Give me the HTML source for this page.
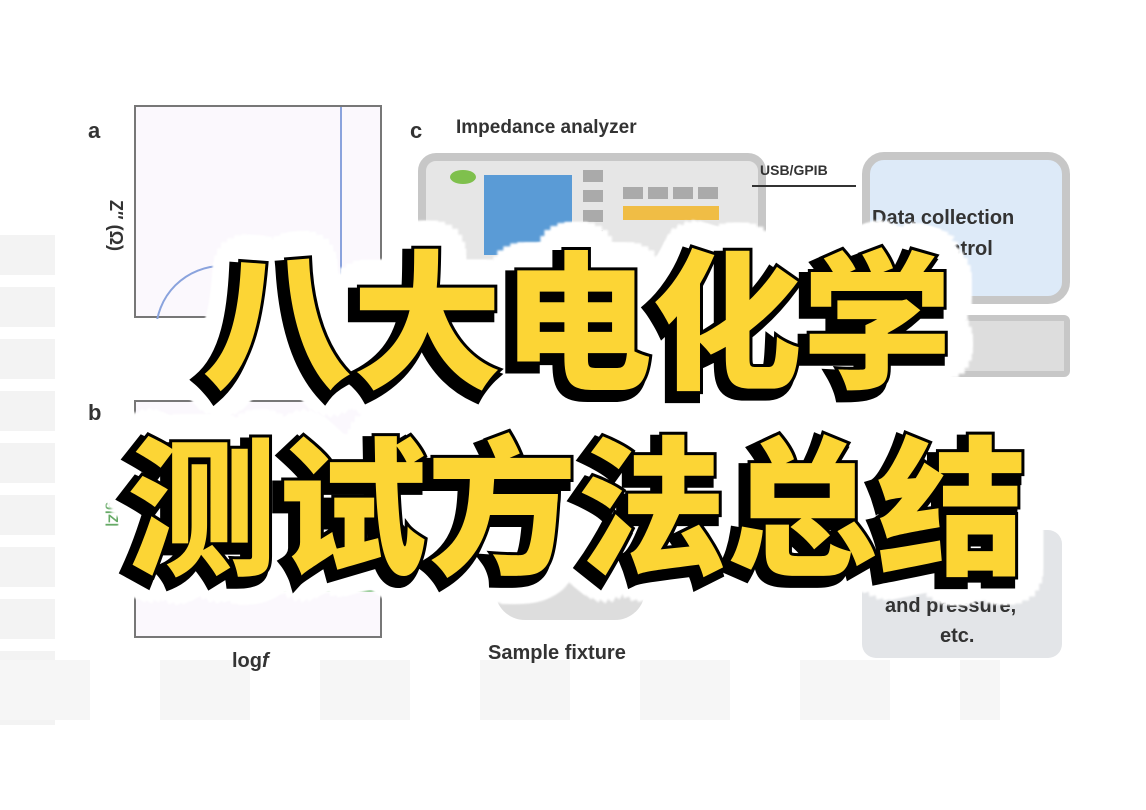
<!DOCTYPE html>
<html><head><meta charset="utf-8"><style>
html,body{margin:0;padding:0;}
body{width:1146px;height:810px;position:relative;overflow:hidden;background:#fff;font-family:"Liberation Sans",sans-serif;}
.a{position:absolute;}
.lbl{position:absolute;font-weight:bold;color:#444;}
.t{position:absolute;left:0;width:1146px;text-align:center;font-family:"Noto Sans CJK SC","WenQuanYi Zen Hei",sans-serif;font-weight:900;font-size:150px;line-height:1;white-space:nowrap;}
.w{color:#fff;-webkit-text-stroke:14px #fff;text-shadow:
28px 0 2px #fff,27px 7px 2px #fff,24px 14px 2px #fff,20px 20px 2px #fff,14px 24px 2px #fff,7px 27px 2px #fff,
0 28px 2px #fff,-7px 27px 2px #fff,-14px 24px 2px #fff,-20px 20px 2px #fff,-24px 14px 2px #fff,-27px 7px 2px #fff,
-28px 0 2px #fff,-27px -7px 2px #fff,-24px -14px 2px #fff,-20px -20px 2px #fff,-14px -24px 2px #fff,-7px -27px 2px #fff,
0 -28px 2px #fff,7px -27px 2px #fff,14px -24px 2px #fff,20px -20px 2px #fff,24px -14px 2px #fff,27px -7px 2px #fff,
18px 0 #fff,-18px 0 #fff,0 18px #fff,0 -18px #fff,13px 13px #fff,-13px 13px #fff,13px -13px #fff,-13px -13px #fff,
17px 7px #fff,-17px 7px #fff,17px -7px #fff,-17px -7px #fff,7px 17px #fff,-7px 17px #fff,7px -17px #fff,-7px -17px #fff;}
.s{color:#000;-webkit-text-stroke:12px #000;}
.y{color:#fcd535;-webkit-text-stroke:6px #000;paint-order:stroke fill;}
</style></head><body>
<div class="a" style="left:0;top:235px;width:55px;height:490px;background:repeating-linear-gradient(#f3f3f3 0 40px,#fff 40px 52px);"></div>
<div class="a" style="left:0;top:660px;width:1000px;height:60px;background:repeating-linear-gradient(90deg,#f6f6f6 0 90px,#fff 90px 160px);"></div>
<div class="lbl" style="left:88px;top:118px;font-size:22px;color:#333">a</div>
<div class="a" style="left:134px;top:105px;width:244px;height:209px;border:2px solid #777;background:#fbf8fd"></div>
<div class="a" style="left:340px;top:107px;width:2px;height:209px;background:#8aa3dd"></div>
<div class="a" style="left:155px;top:265px;width:130px;height:130px;border:2px solid #8aa3dd;border-radius:50%;clip-path:inset(0 0 80px 0)"></div>
<div class="lbl" style="left:90px;top:215px;font-size:18px;transform:rotate(90deg);color:#333">Z″ (Ω)</div>
<div class="lbl" style="left:88px;top:400px;font-size:22px;color:#333">b</div>
<div class="a" style="left:134px;top:400px;width:244px;height:234px;border:2px solid #777;background:#fbf8fd"></div>
<div class="a" style="left:140px;top:590px;width:236px;height:2px;background:#9c9"></div>
<div class="lbl" style="left:95px;top:500px;font-size:14px;color:#6a6;transform:rotate(90deg)">log|Z|</div>
<div class="lbl" style="left:232px;top:650px;font-size:20px;color:#333">log<i>f</i></div>
<div class="lbl" style="left:410px;top:118px;font-size:22px;color:#333">c</div>
<div class="lbl" style="left:456px;top:117px;font-size:19px;color:#333">Impedance analyzer</div>
<div class="a" style="left:418px;top:153px;width:332px;height:110px;border:8px solid #c7c7c7;border-radius:18px;background:#e6e6e6"></div>
<div class="a" style="left:450px;top:170px;width:26px;height:14px;border-radius:50%;background:#7fc04d"></div>
<div class="a" style="left:484px;top:175px;width:88px;height:80px;background:#5a9bd6"></div>
<div class="a" style="left:623px;top:187px;width:96px;height:12px;background:repeating-linear-gradient(90deg,#aaa 0 20px,transparent 20px 25px)"></div>
<div class="a" style="left:623px;top:206px;width:96px;height:14px;background:#f0bd45"></div>
<div class="a" style="left:583px;top:170px;width:20px;height:70px;background:repeating-linear-gradient(#aaa 0 12px,transparent 12px 20px)"></div>
<div class="lbl" style="left:760px;top:162px;font-size:14px;color:#333">USB/GPIB</div>
<div class="a" style="left:752px;top:185px;width:104px;height:2px;background:#333"></div>
<div class="a" style="left:862px;top:152px;width:192px;height:136px;border:8px solid #c7c7c7;border-radius:22px;background:#ddeaf8"></div>
<div class="lbl" style="left:872px;top:207px;font-size:20px;color:#333">Data collection</div>
<div class="lbl" style="left:925px;top:238px;font-size:20px;color:#333">control</div>
<div class="a" style="left:930px;top:315px;width:128px;height:50px;border:6px solid #c7c7c7;border-radius:6px;background:#ddd"></div>
<div class="a" style="left:862px;top:530px;width:200px;height:128px;border-radius:14px;background:#e3e5e8"></div>
<div class="lbl" style="left:885px;top:595px;font-size:20px;color:#333">and pressure,</div>
<div class="lbl" style="left:940px;top:625px;font-size:20px;color:#333">etc.</div>
<div class="a" style="left:495px;top:560px;width:150px;height:60px;border-radius:0 0 30px 30px;background:#ddd"></div>
<div class="lbl" style="left:488px;top:642px;font-size:20px;color:#333">Sample fixture</div>
<div class="t w" style="top:238px;left:4px">八大电化学</div>
<div class="t w" style="top:424px;left:4px">测试方法总结</div>
<div class="t s" style="top:244px;left:-2px">八大电化学</div>
<div class="t s" style="top:430px;left:-2px">测试方法总结</div>
<div class="t y" style="top:238px;left:4px">八大电化学</div>
<div class="t y" style="top:424px;left:4px">测试方法总结</div>
</body></html>
